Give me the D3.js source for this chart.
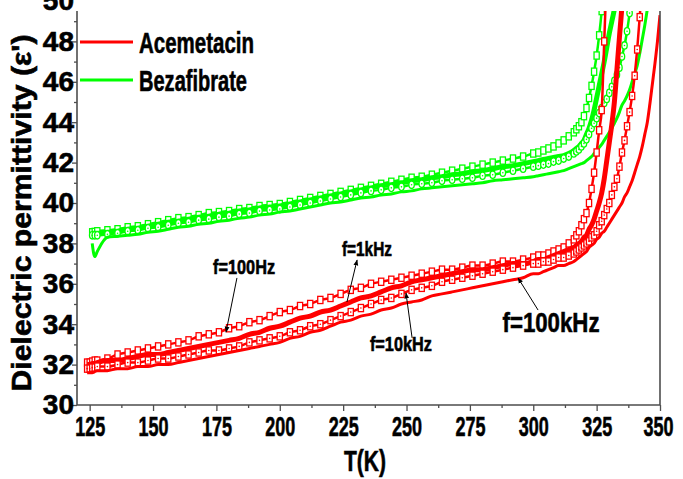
<!DOCTYPE html>
<html>
<head>
<meta charset="utf-8">
<script src="https://cdn.jsdelivr.net/npm/d3@7"></script>
<style>
  body { margin: 0; background: #fff; }
  svg { display: block; }
  text { font-family: "Liberation Sans", Arial, sans-serif; font-weight: bold; fill: #000;
         stroke: #000; stroke-width: 0.6px; paint-order: stroke; }
</style>
</head>
<body>
<svg id="chart" width="683" height="479"></svg>
<script>
// Temperature grid (K) shared by every series
const temps = [124,125,126,127,128,
  132,136,140,144,148,152,156,160,164,168,172,176,180,184,188,192,196,200,204,208,212,216,220,224,
  228,232,236,240,244,248,252,256,260,264,268,272,276,280,284,288,292,296,300,
  302,304,306,308,310,312,314,316,
  317,318,319,320,321,322,323,324,325,326,327,328,329,330,331,332,333,334,335,336,337,338,339,340,
  341,342,343,344,345,346,347,348,349,350];

// Acemetacin permittivity at four frequencies
const acemetacin100Hz = [32.1,32.1,32.15,32.2,32.2,
  32.3,32.5,32.6,32.7,32.8,32.9,33.0,33.1,33.2,33.4,33.5,33.6,33.8,33.9,34.1,34.2,34.4,34.6,34.7,34.9,35.0,35.2,35.3,35.5,
  35.7,35.8,36.0,36.1,36.2,36.3,36.4,36.5,36.6,36.7,36.7,36.8,36.9,36.9,37.0,37.1,37.1,37.2,37.3,
  37.4,37.4,37.5,37.6,37.7,37.8,38.0,38.2,
  38.4,38.6,38.9,39.2,39.5,40.0,40.7,41.5,42.5,43.6,44.6,48.0,51.5];
const acemetacin1kHz = [32.0,32.0,32.05,32.05,32.1,
  32.2,32.2,32.3,32.4,32.5,32.5,32.6,32.7,32.8,32.9,33.0,33.1,33.2,33.3,33.5,33.6,33.8,33.9,34.1,34.3,34.4,34.6,34.7,34.9,
  35.1,35.3,35.4,35.6,35.8,35.9,36.1,36.2,36.3,36.4,36.5,36.6,36.7,36.7,36.8,36.9,37.0,37.0,37.1,
  37.2,37.2,37.3,37.4,37.5,37.6,37.7,37.8,
  37.9,38.0,38.1,38.3,38.4,38.7,38.9,39.2,39.6,40.0,40.5,41.2,42.1,43.0,43.9,45.0,46.6,48.2,49.8,52.0];
const acemetacin10kHz = [31.8,31.8,31.85,31.85,31.9,
  31.9,32.0,32.1,32.1,32.2,32.3,32.3,32.4,32.5,32.6,32.7,32.7,32.8,32.9,33.1,33.2,33.3,33.4,33.6,33.7,33.9,34.0,34.2,34.4,
  34.6,34.8,35.0,35.2,35.3,35.5,35.7,35.8,35.9,36.1,36.2,36.3,36.4,36.5,36.6,36.7,36.8,36.9,37.0,
  37.0,37.1,37.1,37.2,37.3,37.3,37.4,37.5,
  37.6,37.7,37.8,37.9,38.0,38.1,38.3,38.4,38.6,38.9,39.1,39.4,39.7,40.0,40.4,40.8,41.2,41.8,42.5,43.1,43.8,44.5,45.3,46.3,
  47.6,49.2,51.0];
const acemetacin100kHz = [31.6,31.6,31.6,31.65,31.7,
  31.7,31.8,31.8,31.9,31.9,32.0,32.0,32.1,32.2,32.3,32.4,32.5,32.6,32.7,32.8,32.9,33.0,33.1,33.3,33.4,33.6,33.7,33.9,34.1,
  34.2,34.4,34.5,34.7,34.8,35.0,35.1,35.2,35.4,35.5,35.6,35.7,35.8,35.9,36.0,36.1,36.2,36.3,36.5,
  36.5,36.6,36.7,36.8,36.9,36.9,37.0,37.1,
  37.2,37.3,37.4,37.5,37.6,37.8,37.9,38.0,38.2,38.3,38.5,38.6,38.8,39.0,39.2,39.4,39.6,39.8,40.0,40.3,40.5,40.8,41.1,41.5,
  41.9,42.3,42.8,43.4,44.0,44.9,45.9,46.9,48.0,49.3];

// Bezafibrate permittivity at four frequencies (no readings at the first two temperatures)
const bezafibrate100Hz = [null,null,38.55,38.57,38.6,
  38.65,38.7,38.8,38.85,38.95,39.05,39.15,39.25,39.3,39.4,39.5,39.55,39.6,39.7,39.75,39.85,39.9,39.95,40.05,40.15,40.25,40.35,40.45,40.55,
  40.65,40.75,40.85,40.95,41.05,41.15,41.25,41.3,41.4,41.5,41.6,41.7,41.8,41.9,42.0,42.1,42.2,42.3,42.45,
  42.5,42.6,42.7,42.8,42.95,43.1,43.3,43.5,
  43.65,43.8,44.0,44.3,44.7,45.2,45.8,46.5,47.3,48.3,49.5,51.0];
const bezafibrate1kHz = [null,null,38.5,38.5,38.5,
  38.55,38.6,38.7,38.75,38.85,38.95,39.05,39.1,39.2,39.3,39.35,39.45,39.5,39.6,39.65,39.75,39.8,39.85,39.95,40.05,40.15,40.25,40.35,40.45,
  40.55,40.65,40.75,40.85,40.9,41.0,41.1,41.15,41.25,41.3,41.4,41.45,41.55,41.6,41.7,41.8,41.85,41.95,42.05,
  42.1,42.15,42.2,42.25,42.3,42.35,42.45,42.6,
  42.7,42.8,42.95,43.1,43.4,43.7,44.1,44.6,45.2,45.8,46.4,47.0,47.7,48.4,49.0,49.6,50.5];
const bezafibrate10kHz = [null,null,38.4,38.4,38.4,
  38.45,38.5,38.6,38.65,38.75,38.8,38.9,39.0,39.05,39.15,39.2,39.3,39.35,39.45,39.5,39.6,39.65,39.7,39.8,39.9,40.0,40.1,40.2,40.3,
  40.4,40.5,40.6,40.65,40.75,40.8,40.9,40.95,41.0,41.1,41.15,41.2,41.25,41.35,41.4,41.5,41.6,41.7,41.8,
  41.85,41.9,41.95,42.05,42.1,42.2,42.3,42.45,
  42.55,42.65,42.8,42.95,43.15,43.4,43.7,43.95,44.2,44.45,44.7,44.95,45.15,45.45,45.75,46.05,46.35,46.7,47.25,47.8,48.5,49.4,
  50.5];
const bezafibrate100kHz = [null,null,38.0,37.35,37.6,
  38.3,38.35,38.4,38.45,38.55,38.6,38.7,38.8,38.85,38.95,39.0,39.1,39.15,39.25,39.3,39.4,39.45,39.55,39.6,39.7,39.8,39.9,40.0,40.05,
  40.15,40.25,40.3,40.4,40.45,40.55,40.6,40.7,40.75,40.8,40.85,40.9,40.95,41.0,41.1,41.15,41.2,41.25,41.3,
  41.35,41.4,41.45,41.5,41.55,41.6,41.7,41.8,
  41.85,41.9,41.95,42.0,42.1,42.2,42.3,42.45,42.6,42.75,42.9,43.1,43.3,43.5,43.7,43.95,44.2,44.5,44.85,45.05,45.3,45.6,46.0,46.4,
  46.8,47.4,48.1,48.8,49.6,50.5];

const xTicks = [125,150,175,200,225,250,275,300,325,350];
const xMinorTicks = [137.5,162.5,187.5,212.5,237.5,262.5,287.5,312.5,337.5];
const yTicks = [30,32,34,36,38,40,42,44,46,48,50];
const yMinorTicks = [31,33,35,37,39,41,43,45,47,49];

const RED = "#ff0000", GREEN = "#00ff00";

// Drawn back to front: Bezafibrate first, Acemetacin on top
const series = [
  { values: bezafibrate100Hz,  color: GREEN, kind: "square" },
  { values: bezafibrate1kHz,   color: GREEN, kind: "thick" },
  { values: bezafibrate10kHz,  color: GREEN, kind: "circleDot" },
  { values: bezafibrate100kHz, color: GREEN, kind: "line" },
  { values: acemetacin100Hz,   color: RED,   kind: "square" },
  { values: acemetacin1kHz,    color: RED,   kind: "thick" },
  { values: acemetacin10kHz,   color: RED,   kind: "squareDot" },
  { values: acemetacin100kHz,  color: RED,   kind: "line" }
];

const svg = d3.select("#chart");
const plotLeft = 77, plotRight = 660, plotTop = 11, plotBottom = 405;
const x = d3.scaleLinear().domain([120, 350]).range([plotLeft, plotRight]);
const y = d3.scaleLinear().domain([30, 50]).range([plotBottom, 1]);

const defs = svg.append("defs");
defs.append("clipPath").attr("id", "plotClip")
  .append("rect").attr("x", plotLeft).attr("y", plotTop)
  .attr("width", plotRight - plotLeft).attr("height", plotBottom - plotTop);
defs.append("marker").attr("id", "arrow")
  .attr("viewBox", "0 0 10 10").attr("refX", 9).attr("refY", 5)
  .attr("markerWidth", 6).attr("markerHeight", 6).attr("orient", "auto-start-reverse")
  .append("path").attr("d", "M0,1 L10,5 L0,9 Z").attr("fill", "#000");

const plot = svg.append("g").attr("clip-path", "url(#plotClip)");

const lineGen = d3.line()
  .defined(d => d.v != null)
  .x(d => x(d.t)).y(d => y(d.v))
  .curve(d3.curveMonotoneX);

series.forEach(s => {
  const pts = s.values.map((v, i) => ({ t: temps[i], v }));
  const g = plot.append("g");
  const width = s.kind === "thick" ? 5 : (s.kind === "line" ? 3 : 2.5);
  g.append("path").datum(pts)
    .attr("d", lineGen)
    .attr("fill", "none").attr("stroke", s.color)
    .attr("stroke-width", width).attr("stroke-linejoin", "round");

  const valid = pts.filter(d => d.v != null);
  if (s.kind === "square" || s.kind === "squareDot") {
    g.selectAll("rect.m").data(valid).join("rect").attr("class", "m")
      .attr("x", d => x(d.t) - 2.6).attr("y", d => y(d.v) - 3.6)
      .attr("width", 5.2).attr("height", 7.2)
      .attr("fill", "#fff").attr("stroke", s.color).attr("stroke-width", 1.3);
  }
  if (s.kind === "circleDot") {
    g.selectAll("ellipse.m").data(valid).join("ellipse").attr("class", "m")
      .attr("cx", d => x(d.t)).attr("cy", d => y(d.v))
      .attr("rx", 2.7).attr("ry", 3.7)
      .attr("fill", "#fff").attr("stroke", s.color).attr("stroke-width", 1.3);
  }
  if (s.kind === "squareDot" || s.kind === "circleDot") {
    g.selectAll("circle.dot").data(valid).join("circle").attr("class", "dot")
      .attr("cx", d => x(d.t)).attr("cy", d => y(d.v)).attr("r", 0.8)
      .attr("fill", s.color);
  }
});

// Axes
const axisColor = "#4d4d4d";
const xAxis = svg.append("g").attr("transform", `translate(0,${plotBottom})`)
  .call(d3.axisBottom(x).tickValues(xTicks).tickSize(6).tickPadding(5).tickFormat(d3.format("d")));
svg.append("g").attr("transform", `translate(0,${plotBottom})`)
  .call(d3.axisBottom(x).tickValues(xMinorTicks).tickSize(3).tickFormat(""));
const yAxis = svg.append("g").attr("transform", `translate(${plotLeft},0)`)
  .call(d3.axisLeft(y).tickValues(yTicks).tickSize(5).tickPadding(-2).tickFormat(d3.format("d")));
svg.append("g").attr("transform", `translate(${plotLeft},0)`)
  .call(d3.axisLeft(y).tickValues(yMinorTicks).tickSize(3).tickFormat(""));

svg.selectAll(".domain").remove();
svg.selectAll(".tick line").attr("stroke", axisColor).attr("stroke-width", 1.3);
yAxis.selectAll(".tick").filter(d => y(d) < plotTop).select("line").remove();

xAxis.selectAll(".tick text")
  .attr("font-size", 28).attr("fill", "#000")
  .attr("textLength", 30).attr("lengthAdjust", "spacingAndGlyphs");
xAxis.selectAll(".tick").filter(d => d === 350).select("text").attr("x", -2);
yAxis.selectAll(".tick text")
  .attr("font-size", 28).attr("fill", "#000");
xAxis.attr("font-family", null).attr("font-size", null);
yAxis.attr("font-family", null).attr("font-size", null);

// Frame lines
svg.append("line").attr("x1", plotLeft).attr("x2", plotLeft).attr("y1", plotTop).attr("y2", plotBottom)
  .attr("stroke", axisColor).attr("stroke-width", 1.6);
svg.append("line").attr("x1", plotRight).attr("x2", plotRight).attr("y1", plotTop).attr("y2", plotBottom)
  .attr("stroke", axisColor).attr("stroke-width", 1.6);
svg.append("line").attr("x1", plotLeft).attr("x2", plotRight).attr("y1", plotBottom).attr("y2", plotBottom)
  .attr("stroke", axisColor).attr("stroke-width", 1.6);

// Axis titles
svg.append("text")
  .attr("transform", "translate(31,213) rotate(-90)")
  .attr("text-anchor", "middle").attr("font-size", 27)
  .attr("textLength", 357).attr("lengthAdjust", "spacingAndGlyphs")
  .text("Dielectric permittivity (\u03b5')");
svg.append("text")
  .attr("x", 365).attr("y", 471)
  .attr("text-anchor", "middle").attr("font-size", 30)
  .attr("textLength", 42).attr("lengthAdjust", "spacingAndGlyphs")
  .text("T(K)");

// Legend
const legend = [
  { name: "Acemetacin", color: RED, ly: 42, width: 115 },
  { name: "Bezafibrate", color: GREEN, ly: 80, width: 108 }
];
legend.forEach(l => {
  svg.append("line").attr("x1", 80).attr("x2", 133).attr("y1", l.ly).attr("y2", l.ly)
    .attr("stroke", l.color).attr("stroke-width", 3);
  svg.append("text").attr("x", 139).attr("y", l.ly + 10.5)
    .attr("font-size", 29)
    .attr("textLength", l.width).attr("lengthAdjust", "spacingAndGlyphs")
    .text(l.name);
});

// Frequency annotations, placed in data coordinates
const notes = [
  { label: "f=100Hz",  t: 185.9, v: 36.49, size: 21, width: 62, from: [183.1, 36.29], to: [178.8, 33.61] },
  { label: "f=1kHz",   t: 234.4, v: 37.38, size: 21, width: 50, from: [226.5, 35.10], to: [230.5, 37.18] },
  { label: "f=10kHz",  t: 247.8, v: 32.67, size: 21, width: 62, from: [252.2, 33.32], to: [249.8, 35.54] },
  { label: "f=100kHz", t: 307.0, v: 33.61, size: 28, width: 97, from: [301.9, 34.70], to: [294.0, 36.29] }
];
notes.forEach(n => {
  svg.append("line")
    .attr("x1", x(n.from[0])).attr("y1", y(n.from[1]))
    .attr("x2", x(n.to[0])).attr("y2", y(n.to[1]))
    .attr("stroke", "#000").attr("stroke-width", 1)
    .attr("marker-end", "url(#arrow)");
  svg.append("text")
    .attr("x", x(n.t)).attr("y", y(n.v))
    .attr("text-anchor", "middle").attr("font-size", n.size)
    .attr("textLength", n.width).attr("lengthAdjust", "spacingAndGlyphs")
    .text(n.label);
});
</script>
</body>
</html>
